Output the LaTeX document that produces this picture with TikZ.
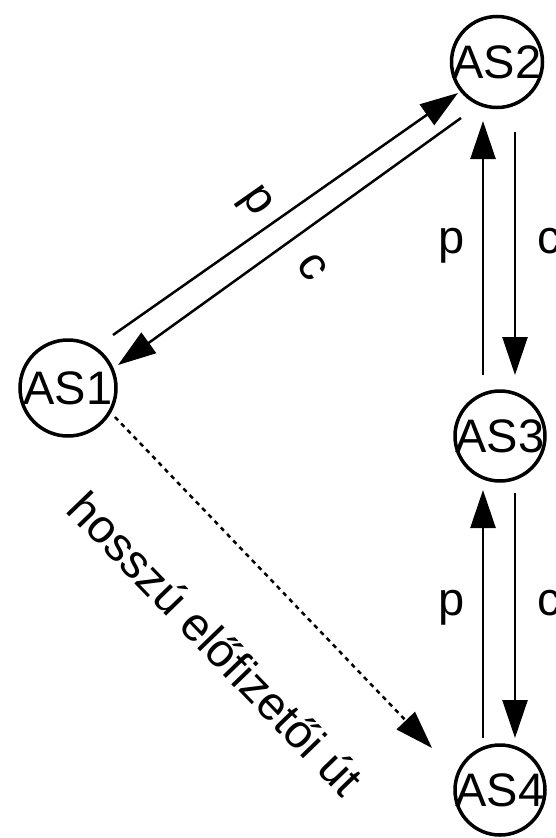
\documentclass[tikz,border=0pt]{standalone}
\usepackage{fontspec}
\setmainfont{Liberation Sans}
\usetikzlibrary{arrows.meta,calc}
\begin{document}
\begin{tikzpicture}[x=1pt,y=-1pt,
  as/.style={circle,draw,line width=3.5pt,inner sep=0pt,font=\fontsize{47pt}{56pt}\selectfont},
  arr/.style={line width=2.5pt,-{Triangle[length=38pt,width=25pt]}},
  dotarr/.style={line width=2.5pt,dash pattern=on 4.5pt off 4.5pt,-{Triangle[length=38pt,width=25pt]}},
  lbl/.style={font=\fontsize{47pt}{56pt}\selectfont,inner sep=0pt}]
\useasboundingbox (0,0) rectangle (556,838);
\clip (0,0) rectangle (556,838);
\node[as,minimum size=96pt] (as1) at (68,388) {\makebox[0pt]{AS1}};
\node[as,minimum size=91pt] (as2) at (497,62) {\makebox[0pt]{AS2}};
\node[as,minimum size=90pt] (as3) at (500,436) {\makebox[0pt]{AS3}};
\node[as,minimum size=90pt] (as4) at (500,790) {\makebox[0pt]{AS4}};
% AS1 <-> AS2
\draw[arr] ($(as1)+(45,-53)$) -- ($(as2)+(-39,31)$);
\draw[arr] ($(as2)+(-36,56)$) -- ($(as1)+(50,-23)$);
% AS2 <-> AS3
\draw[arr] ($(as3)+(-17,-61)$) -- ($(as2)+(-14,59)$);
\draw[arr] ($(as2)+(18,70)$) -- ($(as3)+(15,-61)$);
% AS3 <-> AS4
\draw[arr] ($(as4)+(-17,-52)$) -- ($(as3)+(-17,54)$);
\draw[arr] ($(as3)+(15,57)$) -- ($(as4)+(15,-52)$);
% AS1 -> AS4
\draw[dotarr] ($(as1)+(47,29)$) -- ($(as4)+(-68,-42)$);
% labels
\node[lbl,rotate=-55] (l1) at (254,203) {p};
\node[lbl,rotate=-55] (l2) at (312,267) {c};
\node[lbl,anchor=base] (l3) at (452,253) {p};
\node[lbl,anchor=base] (l4) at (549,253) {c};
\node[lbl,anchor=base] (l5) at (452,615) {p};
\node[lbl,anchor=base] (l6) at (549,615) {c};
\node[lbl,rotate=-46] (l7) at (216,643) {hosszú előfizetői út};
\end{tikzpicture}
\end{document}
